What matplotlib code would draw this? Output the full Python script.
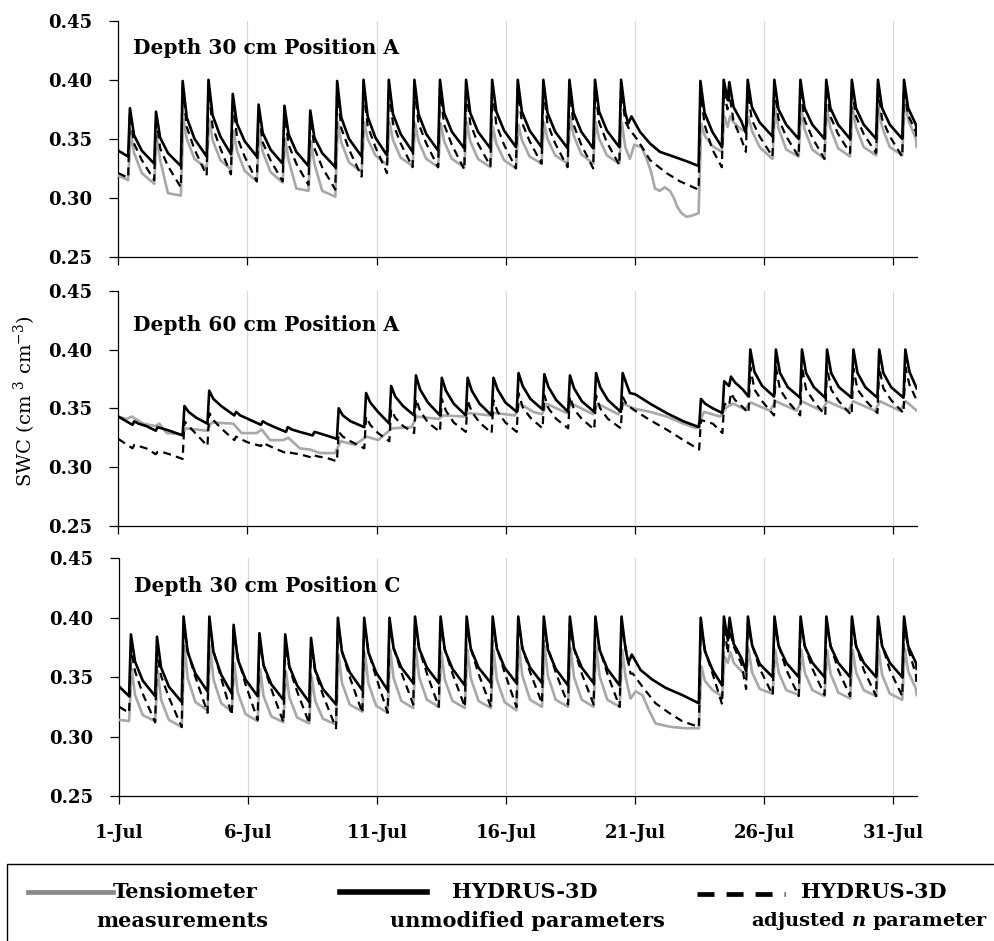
import matplotlib
matplotlib.use("Agg")
import matplotlib.pyplot as plt
from matplotlib.lines import Line2D
from matplotlib.patches import Rectangle

# ---------------------------------------------------------------- data
# time axis: days after 1 July 00:00
X_END = 30.9
TICK_DAYS = [0, 5, 10, 15, 20, 25, 30]
TICK_LABELS = ["1-Jul", "6-Jul", "11-Jul", "16-Jul", "21-Jul", "26-Jul", "31-Jul"]
PANEL_TITLES = ["Depth 30 cm Position A", "Depth 60 cm Position A", "Depth 30 cm Position C"]

# irrigation pulses (day of each rise)
EVENTS_30 = [0.41, 1.42, 2.45, 3.45, 4.39, 5.39, 6.39, 7.39, 8.43, 9.45, 10.43, 11.42,
             12.41, 13.42, 14.43, 15.42, 16.41, 17.42, 18.41, 19.42, 22.49, 23.39,
             23.61, 24.32, 25.35, 26.36, 27.36, 28.35, 29.36, 30.37]
EVENTS_60 = [0.58, 1.48, 2.52, 3.48, 4.52, 5.55, 6.52, 7.55, 8.49, 9.55, 10.52, 11.48,
             12.48, 13.48, 14.48, 15.45, 16.45, 17.44, 18.45, 19.48, 22.51, 23.41,
             23.67, 24.42, 25.41, 26.42, 27.39, 28.41, 29.41, 30.42]

# per pulse: [value before rise, peak, value 0.2 d after, value 0.5 d after]
# ---- Depth 30 cm, position A
A30_MEAS_START, A30_MEAS_END = 0.319, 0.343
A30_MEAS = [
    [0.315, 0.355, 0.338, 0.321], [0.312, 0.352, 0.332, 0.304], [0.302, 0.367, 0.350, 0.333],
    [0.325, 0.367, 0.349, 0.332], [0.324, 0.357, 0.340, 0.323], [0.314, 0.356, 0.339, 0.322],
    [0.313, 0.350, 0.332, 0.308], [0.306, 0.348, 0.329, 0.306], [0.301, 0.364, 0.347, 0.330],
    [0.322, 0.364, 0.350, 0.336], [0.328, 0.364, 0.349, 0.334], [0.327, 0.363, 0.348, 0.333],
    [0.326, 0.363, 0.348, 0.333], [0.326, 0.364, 0.348, 0.333], [0.326, 0.360, 0.346, 0.332],
    [0.325, 0.362, 0.349, 0.335], [0.329, 0.364, 0.350, 0.336], [0.329, 0.369, 0.353, 0.337],
    [0.329, 0.364, 0.350, 0.336], [0.329, 0.364, 0.343, None], [0.287, 0.363, 0.353, 0.344],
    [0.339, 0.369, None, None], [0.360, 0.369, 0.364, 0.358], [0.356, 0.369, 0.357, 0.343],
    [0.333, 0.376, 0.359, 0.341], [0.335, 0.376, 0.358, 0.341], [0.333, 0.376, 0.359, 0.342],
    [0.335, 0.376, 0.360, 0.343], [0.336, 0.376, 0.360, 0.343], [0.336, 0.384, 0.366, 0.350],
]
A30_MEAS_GAP = [(19.80, 0.333), (19.97, 0.345), (20.25, 0.343), (20.45, 0.333), (20.62, 0.322),
                (20.77, 0.308), (20.95, 0.306), (21.15, 0.309), (21.35, 0.306), (21.50, 0.300),
                (21.62, 0.293), (21.80, 0.287), (22.00, 0.284), (22.20, 0.285)]

A30_UNMOD_START, A30_UNMOD_END = 0.340, 0.357
A30_UNMOD = [
    [0.335, 0.376, 0.353, 0.340], [0.329, 0.373, 0.351, 0.338], [0.327, 0.399, 0.368, 0.350],
    [0.335, 0.400, 0.370, 0.352], [0.337, 0.388, 0.363, 0.348], [0.335, 0.379, 0.355, 0.341],
    [0.329, 0.378, 0.354, 0.339], [0.327, 0.374, 0.351, 0.338], [0.326, 0.399, 0.368, 0.350],
    [0.335, 0.400, 0.369, 0.351], [0.336, 0.400, 0.371, 0.354], [0.339, 0.400, 0.371, 0.354],
    [0.340, 0.400, 0.372, 0.356], [0.342, 0.400, 0.372, 0.356], [0.342, 0.400, 0.373, 0.357],
    [0.343, 0.400, 0.373, 0.357], [0.343, 0.400, 0.372, 0.356], [0.342, 0.400, 0.372, 0.356],
    [0.342, 0.400, 0.373, 0.357], [0.343, 0.400, 0.372, None], [0.327, 0.399, 0.372, 0.356],
    [0.343, 0.400, None, None], [0.383, 0.398, 0.377, 0.365], [0.355, 0.400, 0.377, 0.364],
    [0.352, 0.400, 0.375, 0.362], [0.350, 0.400, 0.376, 0.362], [0.350, 0.400, 0.376, 0.362],
    [0.350, 0.400, 0.376, 0.362], [0.350, 0.400, 0.376, 0.362], [0.350, 0.400, 0.376, 0.362],
]
A30_UNMOD_GAP = [(19.74, 0.363), (19.86, 0.369), (20.19, 0.356), (20.58, 0.346),
                 (20.96, 0.339), (21.49, 0.335), (22.00, 0.331)]

A30_ADJ_START, A30_ADJ_END = 0.321, 0.349
A30_ADJ = [
    [0.317, 0.372, 0.346, 0.332], [0.315, 0.369, 0.342, 0.327], [0.309, 0.393, 0.360, 0.341],
    [0.319, 0.393, 0.360, 0.342], [0.320, 0.383, 0.352, 0.335], [0.314, 0.374, 0.347, 0.332],
    [0.314, 0.372, 0.345, 0.329], [0.311, 0.370, 0.342, 0.326], [0.307, 0.393, 0.359, 0.341],
    [0.318, 0.393, 0.361, 0.343], [0.321, 0.393, 0.363, 0.346], [0.326, 0.393, 0.363, 0.346],
    [0.326, 0.393, 0.362, 0.345], [0.324, 0.393, 0.363, 0.346], [0.327, 0.393, 0.362, 0.345],
    [0.325, 0.393, 0.364, 0.348], [0.329, 0.393, 0.363, 0.346], [0.326, 0.393, 0.362, 0.345],
    [0.325, 0.393, 0.364, 0.347], [0.328, 0.393, 0.365, None], [0.307, 0.392, 0.362, 0.341],
    [0.326, 0.390, None, None], [0.375, 0.388, 0.365, 0.350], [0.339, 0.390, 0.366, 0.352],
    [0.335, 0.393, 0.367, 0.352], [0.335, 0.393, 0.366, 0.351], [0.333, 0.393, 0.369, 0.354],
    [0.338, 0.393, 0.369, 0.354], [0.338, 0.393, 0.367, 0.352], [0.335, 0.393, 0.370, 0.356],
]
A30_ADJ_GAP = [(19.80, 0.357), (19.86, 0.356), (20.10, 0.349), (20.58, 0.332),
               (21.22, 0.321), (21.74, 0.314)]

# ---- Depth 60 cm, position A
A60_MEAS_START, A60_MEAS_END = 0.343, 0.348
A60_MEAS = None
A60_MEAS_GAP = [
    (0.32, 0.341), (0.52, 0.343), (0.97, 0.337), (1.42, 0.335), (1.59, 0.337), (1.87, 0.329),
    (2.45, 0.328), (2.62, 0.333), (3.42, 0.331), (3.61, 0.338), (4.45, 0.337), (4.77, 0.329),
    (5.35, 0.329), (5.55, 0.332), (5.87, 0.323), (6.39, 0.323), (6.58, 0.325), (7.03, 0.316),
    (7.42, 0.315), (7.81, 0.312), (8.39, 0.312), (8.61, 0.322), (9.16, 0.319), (9.61, 0.326),
    (10.06, 0.323), (10.58, 0.333), (11.35, 0.334), (11.55, 0.343), (12.39, 0.341),
    (12.58, 0.344), (13.38, 0.343), (13.55, 0.346), (14.39, 0.344), (14.58, 0.346),
    (15.35, 0.344), (15.55, 0.354), (16.06, 0.347), (16.40, 0.345), (16.58, 0.354),
    (17.35, 0.346), (17.55, 0.354), (18.38, 0.345), (18.54, 0.354), (19.35, 0.345),
    (19.55, 0.354), (19.93, 0.350), (20.58, 0.347), (21.22, 0.343), (21.87, 0.337),
    (22.38, 0.333), (22.67, 0.347), (23.29, 0.343), (23.54, 0.351), (23.80, 0.354),
    (24.25, 0.349), (24.47, 0.355), (25.22, 0.348), (25.45, 0.356), (26.25, 0.348),
    (26.45, 0.356), (27.22, 0.348), (27.44, 0.356), (28.25, 0.348), (28.44, 0.356),
    (29.28, 0.348), (29.48, 0.356), (30.25, 0.348), (30.48, 0.356),
]

A60_UNMOD_START, A60_UNMOD_END = 0.343, 0.367
A60_UNMOD = [
    [0.336, 0.339, 0.337, 0.335], [0.331, 0.334, 0.333, 0.331], [0.327, 0.352, 0.347, 0.342],
    [0.337, 0.365, 0.358, 0.352], [0.344, 0.347, 0.344, 0.341], [0.336, 0.339, 0.337, 0.334],
    [0.330, 0.334, 0.332, 0.330], [0.327, 0.330, 0.329, 0.327], [0.324, 0.350, 0.344, 0.339],
    [0.334, 0.363, 0.355, 0.347], [0.337, 0.369, 0.360, 0.352], [0.344, 0.378, 0.366, 0.355],
    [0.344, 0.376, 0.365, 0.354], [0.344, 0.376, 0.365, 0.354], [0.344, 0.376, 0.366, 0.355],
    [0.347, 0.380, 0.369, 0.358], [0.349, 0.379, 0.368, 0.357], [0.347, 0.378, 0.367, 0.356],
    [0.347, 0.380, 0.368, 0.357], [0.347, 0.380, 0.370, None], [0.334, 0.358, 0.354, 0.350],
    [0.346, 0.373, None, None], [0.369, 0.377, 0.372, 0.366], [0.360, 0.400, 0.381, 0.369],
    [0.360, 0.400, 0.380, 0.368], [0.359, 0.400, 0.380, 0.368], [0.359, 0.400, 0.380, 0.368],
    [0.359, 0.400, 0.380, 0.368], [0.359, 0.400, 0.380, 0.368], [0.359, 0.400, 0.381, 0.370],
]
A60_UNMOD_GAP = [(19.80, 0.363), (20.00, 0.362), (20.15, 0.360), (20.58, 0.354),
                 (21.22, 0.346), (21.87, 0.339)]

A60_ADJ_START, A60_ADJ_END = 0.324, 0.357
A60_ADJ = [
    [0.316, 0.319, 0.318, 0.316], [0.311, 0.313, 0.313, 0.311], [0.307, 0.339, 0.335, 0.328],
    [0.318, 0.346, 0.340, 0.333], [0.323, 0.326, 0.324, 0.321], [0.318, 0.321, 0.319, 0.316],
    [0.312, 0.313, 0.312, 0.311], [0.308, 0.310, 0.309, 0.308], [0.305, 0.330, 0.326, 0.322],
    [0.316, 0.343, 0.336, 0.329], [0.322, 0.349, 0.342, 0.335], [0.329, 0.358, 0.348, 0.338],
    [0.330, 0.358, 0.348, 0.338], [0.330, 0.357, 0.347, 0.338], [0.329, 0.357, 0.347, 0.338],
    [0.330, 0.363, 0.351, 0.342], [0.333, 0.361, 0.350, 0.341], [0.333, 0.360, 0.349, 0.341],
    [0.332, 0.361, 0.350, 0.341], [0.333, 0.360, 0.353, None], [0.315, 0.340, 0.339, 0.337],
    [0.329, 0.354, None, None], [0.352, 0.363, 0.357, 0.351], [0.346, 0.385, 0.366, 0.356],
    [0.344, 0.385, 0.366, 0.356], [0.344, 0.385, 0.366, 0.356], [0.344, 0.385, 0.366, 0.356],
    [0.344, 0.384, 0.366, 0.357], [0.346, 0.385, 0.367, 0.357], [0.346, 0.385, 0.370, 0.362],
]
A60_ADJ_GAP = [(19.93, 0.349), (20.58, 0.340), (21.22, 0.332), (21.87, 0.323)]

# ---- Depth 30 cm, position C
C30_MEAS_START, C30_MEAS_END = 0.314, 0.335
C30_MEAS = [
    [0.313, 0.357, 0.335, 0.318], [0.313, 0.355, 0.331, 0.314], [0.308, 0.376, 0.349, 0.329],
    [0.322, 0.376, 0.348, 0.328], [0.321, 0.362, 0.337, 0.319], [0.313, 0.357, 0.334, 0.317],
    [0.312, 0.355, 0.333, 0.316], [0.311, 0.350, 0.330, 0.315], [0.310, 0.369, 0.345, 0.327],
    [0.321, 0.370, 0.345, 0.326], [0.320, 0.373, 0.349, 0.330], [0.324, 0.374, 0.350, 0.331],
    [0.325, 0.371, 0.348, 0.330], [0.324, 0.373, 0.349, 0.330], [0.324, 0.373, 0.348, 0.329],
    [0.322, 0.376, 0.351, 0.331], [0.325, 0.376, 0.351, 0.331], [0.325, 0.374, 0.350, 0.331],
    [0.325, 0.376, 0.351, 0.331], [0.325, 0.373, 0.350, None], [0.307, 0.359, 0.347, 0.339],
    [0.334, 0.367, None, None], [0.362, 0.371, 0.362, 0.355], [0.352, 0.373, 0.354, 0.340],
    [0.336, 0.373, 0.354, 0.339], [0.335, 0.373, 0.354, 0.339], [0.334, 0.373, 0.353, 0.337],
    [0.332, 0.373, 0.354, 0.339], [0.334, 0.373, 0.352, 0.336], [0.331, 0.374, 0.355, 0.340],
]
C30_MEAS_GAP = [(19.81, 0.332), (20.01, 0.338), (20.27, 0.335), (20.53, 0.322), (20.78, 0.311),
                (21.17, 0.309), (21.43, 0.308), (21.94, 0.307)]

C30_UNMOD_START, C30_UNMOD_END = 0.342, 0.357
C30_UNMOD = [
    [0.334, 0.386, 0.363, 0.347], [0.334, 0.384, 0.358, 0.342], [0.329, 0.401, 0.371, 0.353],
    [0.338, 0.401, 0.371, 0.352], [0.336, 0.394, 0.365, 0.348], [0.334, 0.387, 0.360, 0.344],
    [0.331, 0.386, 0.359, 0.343], [0.329, 0.383, 0.356, 0.340], [0.327, 0.400, 0.371, 0.354],
    [0.339, 0.400, 0.371, 0.354], [0.339, 0.400, 0.374, 0.358], [0.345, 0.401, 0.374, 0.358],
    [0.345, 0.401, 0.373, 0.357], [0.343, 0.401, 0.374, 0.358], [0.345, 0.401, 0.374, 0.358],
    [0.345, 0.401, 0.374, 0.358], [0.345, 0.401, 0.373, 0.357], [0.343, 0.401, 0.374, 0.358],
    [0.345, 0.401, 0.373, 0.357], [0.343, 0.401, 0.373, None], [0.328, 0.400, 0.372, 0.356],
    [0.343, 0.401, None, None], [0.381, 0.400, 0.378, 0.366], [0.355, 0.401, 0.377, 0.361],
    [0.350, 0.401, 0.376, 0.362], [0.350, 0.401, 0.376, 0.362], [0.350, 0.401, 0.376, 0.362],
    [0.350, 0.401, 0.376, 0.362], [0.350, 0.401, 0.376, 0.362], [0.350, 0.401, 0.376, 0.362],
]
C30_UNMOD_GAP = [(19.73, 0.362), (19.86, 0.369), (20.20, 0.356), (20.65, 0.348),
                 (21.17, 0.341), (21.81, 0.335)]

C30_ADJ_START, C30_ADJ_END = 0.325, 0.342
C30_ADJ = [
    [0.320, 0.373, 0.355, 0.336], [0.312, 0.370, 0.351, 0.333], [0.308, 0.395, 0.372, 0.350],
    [0.320, 0.395, 0.372, 0.349], [0.318, 0.390, 0.367, 0.344], [0.314, 0.381, 0.360, 0.340],
    [0.312, 0.378, 0.358, 0.338], [0.311, 0.376, 0.355, 0.335], [0.307, 0.395, 0.372, 0.350],
    [0.320, 0.395, 0.372, 0.350], [0.320, 0.395, 0.375, 0.354], [0.327, 0.395, 0.374, 0.353],
    [0.325, 0.395, 0.374, 0.353], [0.325, 0.395, 0.374, 0.353], [0.325, 0.395, 0.375, 0.354],
    [0.325, 0.395, 0.375, 0.354], [0.328, 0.395, 0.375, 0.354], [0.327, 0.395, 0.374, 0.353],
    [0.327, 0.395, 0.374, 0.353], [0.325, 0.395, 0.375, None], [0.308, 0.393, 0.373, 0.353],
    [0.327, 0.395, None, None], [0.370, 0.390, 0.376, 0.361], [0.340, 0.395, 0.377, 0.357],
    [0.335, 0.395, 0.377, 0.356], [0.334, 0.395, 0.377, 0.357], [0.335, 0.395, 0.377, 0.356],
    [0.334, 0.395, 0.377, 0.356], [0.334, 0.395, 0.377, 0.356], [0.334, 0.395, 0.374, 0.352],
]
C30_ADJ_GAP = [(19.81, 0.353), (19.90, 0.353), (20.27, 0.342), (20.78, 0.328),
               (21.30, 0.320), (21.81, 0.313)]

# ---------------------------------------------------------------- style
plt.rcParams["font.family"] = ["DejaVu Serif"]
plt.rcParams["mathtext.fontset"] = "custom"
plt.rcParams["mathtext.rm"] = "DejaVu Serif"
plt.rcParams["mathtext.it"] = "DejaVu Serif:italic:bold"
plt.rcParams["mathtext.bf"] = "DejaVu Serif:bold"

GRAY = "#a8a8a8"
DASH = (0, (3.6, 2.4))


def trace(events, rows, start, end, gap=(), rise=0.04):
    """Vertices (day, value) of one soil-water series."""
    pts = [(0.0, start)]
    if rows is not None:
        for i, t in enumerate(events):
            low, peak, a, b = rows[i]
            nxt = events[i + 1] - 0.03 if i + 1 < len(events) else X_END
            pts.append((t - 0.03, low))
            pts.append((t + rise, peak))
            for dt, v in ((0.2, a), (0.5, b)):
                if v is not None and t + dt < nxt - 0.02:
                    pts.append((t + dt, v))
    pts.extend(gap)
    pts.append((X_END, end))
    pts.sort()
    return [p[0] for p in pts], [p[1] for p in pts]


panels = [
    (EVENTS_30, (A30_MEAS, A30_MEAS_START, A30_MEAS_END, A30_MEAS_GAP),
     (A30_UNMOD, A30_UNMOD_START, A30_UNMOD_END, A30_UNMOD_GAP),
     (A30_ADJ, A30_ADJ_START, A30_ADJ_END, A30_ADJ_GAP)),
    (EVENTS_60, (A60_MEAS, A60_MEAS_START, A60_MEAS_END, A60_MEAS_GAP),
     (A60_UNMOD, A60_UNMOD_START, A60_UNMOD_END, A60_UNMOD_GAP),
     (A60_ADJ, A60_ADJ_START, A60_ADJ_END, A60_ADJ_GAP)),
    (EVENTS_30, (C30_MEAS, C30_MEAS_START, C30_MEAS_END, C30_MEAS_GAP),
     (C30_UNMOD, C30_UNMOD_START, C30_UNMOD_END, C30_UNMOD_GAP),
     (C30_ADJ, C30_ADJ_START, C30_ADJ_END, C30_ADJ_GAP)),
]

fig = plt.figure(figsize=(9.95, 9.41), dpi=100)
rects = [[0.1189, 0.7269, 0.8024, 0.2511],
         [0.1189, 0.4410, 0.8024, 0.2501],
         [0.1199, 0.1541, 0.8014, 0.2526]]
title_y = [0.859, 0.829, 0.860]

for k, (events, meas, unmod, adj) in enumerate(panels):
    ax = fig.add_axes(rects[k])
    x, y = trace(events, meas[0], meas[1], meas[2], meas[3], rise=0.07)
    ax.plot(x, y, color=GRAY, lw=1.9, solid_joinstyle="round", zorder=3)
    x, y = trace(events, unmod[0], unmod[1], unmod[2], unmod[3])
    ax.plot(x, y, color="black", lw=1.9, solid_joinstyle="round", zorder=4)
    x, y = trace(events, adj[0], adj[1], adj[2], adj[3])
    ax.plot(x, y, color="black", lw=1.6, ls=DASH, zorder=5)

    ax.set_xlim(0, X_END)
    ax.set_ylim(0.25, 0.45)
    ax.set_yticks([0.25, 0.30, 0.35, 0.40, 0.45])
    ax.set_yticklabels(["0.25", "0.30", "0.35", "0.40", "0.45"])
    ax.set_xticks(TICK_DAYS)
    if k == 2:
        ax.set_xticklabels(TICK_LABELS)
    else:
        ax.set_xticklabels([])
    for lab in ax.get_xticklabels() + ax.get_yticklabels():
        lab.set_fontweight("bold")
        lab.set_fontsize(13)
    ax.tick_params(axis="y", direction="out", length=6.5, width=0.9, pad=12)
    ax.tick_params(axis="x", direction="out", length=6, width=0.9, pad=14)
    for s in ("top", "right"):
        ax.spines[s].set_visible(False)
    for s in ("left", "bottom"):
        ax.spines[s].set_linewidth(0.9)
    for d in TICK_DAYS[1:]:
        ax.axvline(d, color="#d9d9d9", lw=0.9, zorder=1)
    ax.text(0.0188, title_y[k], PANEL_TITLES[k], transform=ax.transAxes,
            fontsize=14.5, fontweight="bold", va="baseline", ha="left")

fig.text(0.025, 0.574, r"SWC (cm $^{3}$ cm$^{-3}$)", rotation=90,
         ha="center", va="center", fontsize=14)

# legend panel
fig.add_artist(Rectangle((0.007, -0.02), 1.1, 0.1018, transform=fig.transFigure,
                         fill=False, edgecolor="black", lw=1.0, clip_on=False))
fig.add_artist(Line2D([0.0281, 0.1136], [0.052, 0.052], transform=fig.transFigure,
                      color="#8a8a8a", lw=3.4))
fig.add_artist(Line2D([0.3417, 0.4291], [0.052, 0.052], transform=fig.transFigure,
                      color="black", lw=4.0))
fig.add_artist(Line2D([0.7005, 0.789], [0.050, 0.050], transform=fig.transFigure,
                      color="black", lw=3.4, ls=(0, (3.6, 2.55))))
leg_kw = dict(transform=fig.transFigure, fontweight="bold", ha="center", va="center")
fig.text(0.186, 0.052, "Tensiometer", fontsize=15, **leg_kw)
fig.text(0.183, 0.021, "measurements", fontsize=15, **leg_kw)
fig.text(0.5276, 0.052, "HYDRUS-3D", fontsize=15, **leg_kw)
fig.text(0.5296, 0.021, "unmodified parameters", fontsize=15, **leg_kw)
fig.text(0.878, 0.052, "HYDRUS-3D", fontsize=15, **leg_kw)
fig.text(0.874, 0.021, r"adjusted $n$ parameter", fontsize=14, **leg_kw)

fig.savefig("out.png", dpi=100)
